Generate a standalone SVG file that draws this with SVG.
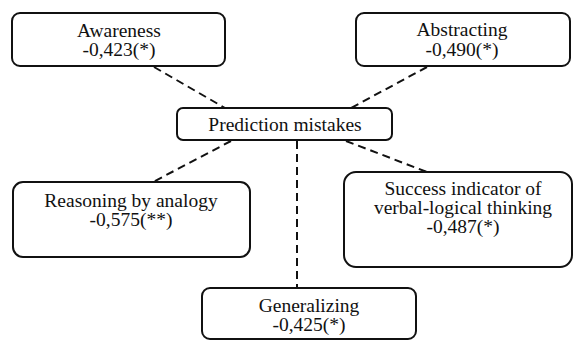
<svg xmlns="http://www.w3.org/2000/svg" width="577" height="340" viewBox="0 0 577 340">
<style>
.box{fill:#fff;stroke:#111;stroke-width:2}
.t{font-family:'Liberation Serif','Times New Roman',serif;font-size:19.5px;fill:#111;text-anchor:middle}
.c{stroke:#111;stroke-width:2;stroke-dasharray:8 5;fill:none}
</style>
<rect width="577" height="340" fill="#fff"/>
<g id="connectors">
<line class="c" x1="154" y1="67" x2="225" y2="108"/>
<line class="c" x1="427" y1="67" x2="351" y2="108"/>
<line class="c" x1="231" y1="141" x2="153" y2="182"/>
<line class="c" x1="346" y1="141" x2="427" y2="172"/>
<line class="c" x1="297" y1="141" x2="297" y2="288"/>
</g>
<g id="awareness">
<rect class="box" x="12" y="13" width="213" height="53" rx="8"/>
<text class="t" x="119" y="37">Awareness</text>
<text class="t" x="119" y="56">-0,423(*)</text>
</g>
<g id="abstracting">
<rect class="box" x="356" y="13" width="214" height="53" rx="8"/>
<text class="t" x="462" y="36">Abstracting</text>
<text class="t" x="462" y="56">-0,490(*)</text>
</g>
<g id="prediction">
<rect class="box" x="177" y="108" width="215" height="32" rx="6"/>
<text class="t" x="285" y="131">Prediction mistakes</text>
</g>
<g id="reasoning">
<rect class="box" x="13" y="182" width="237" height="75" rx="10"/>
<text class="t" x="131" y="207">Reasoning by analogy</text>
<text class="t" x="131" y="226">-0,575(**)</text>
</g>
<g id="success">
<rect class="box" x="344" y="172" width="228" height="95" rx="12"/>
<text class="t" x="463" y="195">Success indicator of</text>
<text class="t" x="463" y="214">verbal-logical thinking</text>
<text class="t" x="463" y="233">-0,487(*)</text>
</g>
<g id="generalizing">
<rect class="box" x="202" y="288" width="214" height="51" rx="8"/>
<text class="t" x="309" y="312">Generalizing</text>
<text class="t" x="309" y="331">-0,425(*)</text>
</g>
</svg>
